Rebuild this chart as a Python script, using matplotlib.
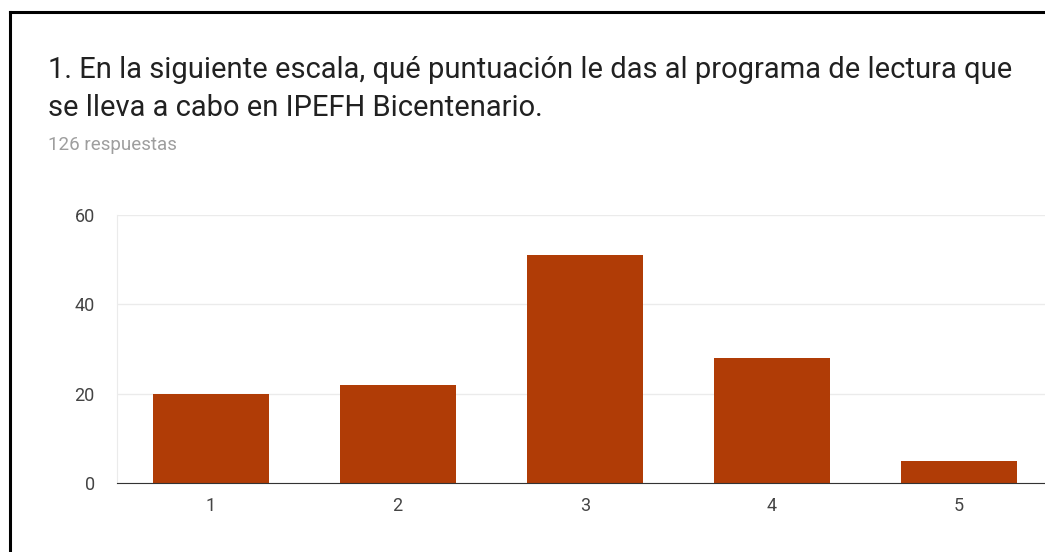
import matplotlib.pyplot as plt
from matplotlib.lines import Line2D

plt.rcParams['font.family'] = ['Roboto', 'DejaVu Sans']

categories = ['1', '2', '3', '4', '5']
counts = [20, 22, 51, 28, 5]
y_ticks = [0, 20, 40, 60]
title_lines = ['1. En la siguiente escala, qué puntuación le das al programa de lectura que',
               'se lleva a cabo en IPEFH Bicentenario.']
subtitle = '126 respuestas'

W, H = 1045, 552
fig = plt.figure(figsize=(W / 100, H / 100), dpi=100)
fig.patch.set_facecolor('white')

# frame around the card (top and left edges only visible)
fig.add_artist(Line2D([10 / W, 1], [1 - 12 / H, 1 - 12 / H], color='black', lw=2.2))
fig.add_artist(Line2D([10 / W, 10 / W], [1 - 12 / H, 0], color='black', lw=2.2))

fig.text(48 / W, 1 - 56 / H, title_lines[0], fontsize=21, color='#212121', va='top')
fig.text(48 / W, 1 - 94 / H, title_lines[1], fontsize=21, color='#212121', va='top')
fig.text(48 / W, 1 - 136 / H, subtitle, fontsize=13.5, color='#9e9e9e', va='top')

ax = fig.add_axes([117 / W, 1 - 483 / H, 1 - 117 / W, (483 - 215) / H])
x = list(range(1, len(categories) + 1))
ax.bar(x, counts, width=0.62, color='#b03c06', zorder=3)
ax.set_xlim(0.5, 5.46)
ax.set_ylim(0, 60)
ax.set_yticks(y_ticks)
ax.set_xticks(x, categories)
ax.yaxis.grid(True, color='#ebebeb', lw=1, zorder=0)
for s in ['top', 'right']:
    ax.spines[s].set_visible(False)
ax.spines['left'].set_color('#ebebeb')
ax.spines['bottom'].set_color('#333333')
ax.spines['bottom'].set_zorder(4)
ax.tick_params(length=0, labelsize=13, labelcolor='#444444')
ax.tick_params(axis='y', pad=16)
ax.tick_params(axis='x', pad=10)

fig.savefig('out.png', dpi=100)
